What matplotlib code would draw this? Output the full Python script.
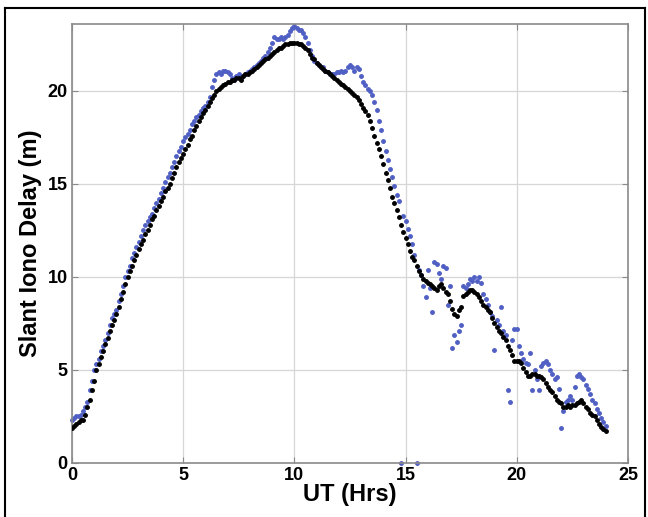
import numpy as np
import matplotlib
matplotlib.use("Agg")
import matplotlib.pyplot as plt
from matplotlib.lines import Line2D

plt.rcParams['font.family'] = ['Liberation Sans', 'DejaVu Sans']

# Sampling times (UT hours), one sample every 0.1 hr
ut_start, ut_stop, ut_step = 0.0, 24.0, 0.1

# Slant iono delay, black series (m)
delay_black = [
    1.9, 2.0, 2.1, 2.2, 2.3, 2.3, 2.6, 3.0, 3.4, 3.9,
    4.4, 5.0, 5.3, 5.7, 6.0, 6.4, 6.7, 7.1, 7.4, 7.7,
    8.0, 8.4, 8.8, 9.2, 9.6, 10.0, 10.3, 10.6, 10.9, 11.2,
    11.5, 11.8, 12.0, 12.3, 12.5, 12.8, 13.1, 13.3, 13.6, 13.8,
    14.1, 14.3, 14.6, 14.8, 15.0, 15.3, 15.6, 15.9, 16.2, 16.4,
    16.6, 16.9, 17.1, 17.4, 17.6, 17.9, 18.1, 18.4, 18.6, 18.8,
    19.0, 19.2, 19.4, 19.6, 19.8, 20.0, 20.1, 20.2, 20.3, 20.4,
    20.5, 20.5, 20.6, 20.6, 20.7, 20.7, 20.6, 20.8, 20.9, 20.9,
    21.0, 21.1, 21.2, 21.3, 21.4, 21.5, 21.6, 21.7, 21.8, 21.9,
    22.0, 22.1, 22.2, 22.3, 22.3, 22.4, 22.5, 22.5, 22.6, 22.6,
    22.6, 22.6, 22.5, 22.5, 22.4, 22.3, 22.2, 22.0, 21.8, 21.7,
    21.5, 21.4, 21.3, 21.2, 21.1, 21.0, 20.9, 20.8, 20.7, 20.6,
    20.5, 20.4, 20.3, 20.2, 20.1, 20.0, 19.9, 19.8, 19.7, 19.5,
    19.3, 19.1, 18.9, 18.7, 18.4, 18.0, 17.6, 17.2, 16.9, 16.5,
    16.1, 15.6, 15.2, 14.8, 14.3, 14.0, 13.6, 13.2, 12.8, 12.4,
    12.1, 11.8, 11.4, 11.1, 10.9, 10.6, 10.3, 10.1, 9.9, 9.8,
    9.7, 9.6, 9.5, 9.4, 9.3, 9.5, 9.6, 9.4, 9.2, 9.1,
    8.7, 8.3, 8.0, 7.9, 8.2, 8.4, 9.0, 9.1, 9.2, 9.3,
    9.3, 9.2, 9.1, 8.9, 8.7, 8.5, 8.4, 8.2, 8.1, 7.8,
    7.5, 7.3, 7.1, 7.0, 6.8, 6.6, 6.3, 6.1, 5.8, 5.5,
    5.5, 5.5, 5.4, 5.1, 4.9, 4.7, 4.7, 4.8, 4.8, 4.7,
    4.7, 4.6, 4.5, 4.3, 4.1, 3.9, 3.8, 3.6, 3.4, 3.3,
    3.2, 3.0, 3.0, 3.1, 3.0, 3.1, 3.1, 3.2, 3.3, 3.4,
    3.2, 3.0, 2.9, 2.7, 2.6, 2.5, 2.3, 2.1, 1.95, 1.8,
    1.7,
]

# Slant iono delay, blue series (m)
delay_blue = [
    2.3, 2.4, 2.5, 2.5, 2.6, 2.8, 3.0, 3.3, 3.9, 4.4,
    5.0, 5.3, 5.6, 6.0, 6.3, 6.6, 7.0, 7.4, 7.8, 8.0,
    8.2, 8.7, 9.1, 9.5, 10.0, 10.3, 10.6, 11.0, 11.3, 11.6,
    11.9, 12.2, 12.5, 12.8, 13.0, 13.2, 13.4, 13.7, 14.0, 14.2,
    14.5, 14.8, 15.1, 15.4, 15.6, 15.9, 16.2, 16.5, 16.8, 17.0,
    17.3, 17.5, 17.7, 17.9, 18.2, 18.4, 18.6, 18.7, 18.9, 19.1,
    19.2, 19.4, 19.7, 20.2, 20.6, 20.9, 21.0, 20.9, 21.1, 21.1,
    21.0, 20.9, 20.7, 20.6, 20.8, 20.9, 20.7, 20.8, 20.9, 21.0,
    21.1, 21.2, 21.3, 21.4, 21.5, 21.6, 21.8, 21.9, 22.1, 22.3,
    22.6, 22.9, 22.8, 22.8, 22.9, 22.8, 22.9, 23.0, 23.2, 23.4,
    23.5, 23.4, 23.3, 23.3, 23.1, 22.9, 22.6, 22.2, 21.9, 21.6,
    21.5, 21.4, 21.3, 21.3, 21.1, 21.0, 20.9, 20.9, 20.9, 21.0,
    21.0, 21.1, 21.0, 21.1, 21.3, 21.4, 21.3, 21.1, 21.3, 21.2,
    20.8, 20.5, 20.3, 20.1, 20.0, 19.8, 19.4, 19.0, 18.4, 17.9,
    17.3, 16.8, 16.3, 15.8, 15.4, 14.9, 14.4, 14.1, 0.0, 13.3,
    13.0, 12.6, 12.2, 11.8, 11.2, 0.0, 10.4, 10.1, 9.5, 8.9,
    10.4, 9.4, 8.1, 10.8, 10.7, 10.2, 9.9, 10.6, 10.5, 8.5,
    9.5, 6.2, 6.9, 6.5, 7.1, 7.4, 9.5, 9.4, 9.6, 9.9,
    9.8, 10.0, 9.8, 10.0, 9.7, 9.1, 8.8, 8.5, 8.1, 7.9,
    6.1, 7.7, 7.4, 8.4, 7.1, 6.9, 3.9, 3.3, 6.6, 7.2,
    7.2, 6.3, 5.9, 5.6, 5.4, 5.3, 5.9, 3.9, 5.0, 4.5,
    3.9, 5.2, 5.4, 5.5, 5.3, 5.0, 4.8, 4.5, 4.6, 4.0,
    1.9, 2.8, 3.3, 3.4, 3.6, 3.4, 4.1, 4.7, 4.8, 4.6,
    4.5, 4.2, 4.0, 3.7, 3.4, 3.2, 2.9, 2.7, 2.4, 2.2,
    2.0,
]

ut = np.arange(len(delay_black)) * ut_step + ut_start

fig = plt.figure(figsize=(6.48, 5.17), dpi=100)
ax = fig.add_axes([0.111, 0.1045, 0.858, 0.849])

ax.plot(ut, delay_blue, '.', color='#4f5fc4', markersize=5, zorder=2, clip_on=False)
ax.plot(ut, delay_black, '.', color='black', markersize=5, zorder=3)

ax.set_xlim(ut_start, 25)
ax.set_ylim(0, 23.6)
ax.set_xticks([0, 5, 10, 15, 20, 25])
ax.set_yticks([0, 5, 10, 15, 20])
ax.grid(True, color='#d6d6d6', linewidth=0.9)
ax.set_axisbelow(True)

for s in ax.spines.values():
    s.set_color('#8a8a8a')
    s.set_linewidth(1.2)
ax.tick_params(direction='in', length=4, color='#8a8a8a', top=True, right=True,
               labeltop=False, labelright=False, pad=3)
for lab in ax.get_xticklabels() + ax.get_yticklabels():
    lab.set_fontsize(13)
    lab.set_fontweight('bold')

ax.set_xlabel('UT (Hrs)', fontsize=17, fontweight='bold', labelpad=-1)
ax.set_ylabel('Slant Iono Delay (m)', fontsize=17, fontweight='bold', labelpad=4)

# outer frame of the figure panel
fig.add_artist(Line2D([5 / 648, 5 / 648], [0, 1 - 8 / 517], color='black', lw=1.5))
fig.add_artist(Line2D([5 / 648, 645 / 648], [1 - 8 / 517, 1 - 8 / 517], color='black', lw=1.5))
fig.add_artist(Line2D([645 / 648, 645 / 648], [0, 1 - 8 / 517], color='black', lw=1.5))

fig.savefig('out.png', dpi=100)
